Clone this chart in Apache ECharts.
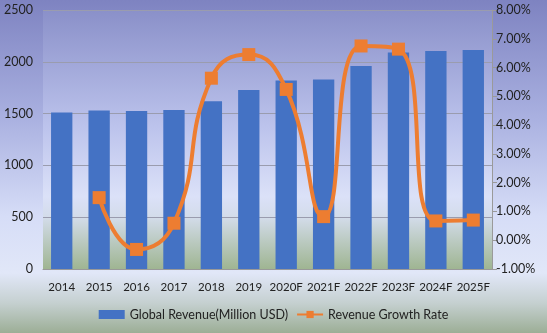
<!DOCTYPE html>
<html><head><meta charset="utf-8">
<script src="https://cdn.jsdelivr.net/npm/echarts@6/dist/echarts.min.js"></script>
<style>
html,body{margin:0;padding:0;}
#c{width:547px;height:333px;background:linear-gradient(to bottom,#7e83c1 0%,#a9b0e0 35%,#d6ddf7 65%,#e1e7f8 82%,#c5d0d0 91%,#9cae96 100%);}
</style></head><body>
<div id="c"></div>
<script>
const categories = ['2014','2015','2016','2017','2018','2019','2020F','2021F','2022F','2023F','2024F','2025F'];
const revenue = [1510,1530,1525,1535,1620,1728,1820,1828,1960,2090,2105,2115];
const growthRate = [null,1.48,-0.32,0.59,5.63,6.45,5.24,0.82,6.75,6.64,0.67,0.70];
const leftTicks = [0,500,1000,1500,2000,2500];

const chart = echarts.init(document.getElementById('c'));
const font = 'Lato, "Open Sans", sans-serif';
chart.setOption({
  animation:false,
  grid:{left:43,right:55,top:10,bottom:64,show:true,borderWidth:0,
    backgroundColor:new echarts.graphic.LinearGradient(0,0,0,1,[
      {offset:0,color:'#8a90c9'},{offset:0.45,color:'#bcc3ec'},{offset:0.72,color:'#dbe1f8'},
      {offset:0.8,color:'#d3dcea'},{offset:1,color:'#9fb592'}])},
  legend:{bottom:7,left:'center',itemGap:8,itemWidth:26,itemHeight:9,
    textStyle:{fontFamily:font,fontSize:12.5,color:'#222'},
    data:[{name:'Global Revenue(Million USD)',icon:'rect'},{name:'Revenue Growth Rate'}]},
  xAxis:{type:'category',data:categories,
    axisLine:{show:true,lineStyle:{color:'#999',width:1}},axisTick:{show:false},
    axisLabel:{fontFamily:font,fontSize:11.5,color:'#222',margin:12,interval:0}},
  yAxis:[{type:'value',min:0,max:2500,interval:500,
    axisLine:{show:false},axisTick:{show:false},
    axisLabel:{fontFamily:font,fontSize:12.5,color:'#222',margin:10,
      formatter:v=>leftTicks.includes(v)?String(v):''},
    splitLine:{lineStyle:{color:'#9a9cae',width:1}}},
   {type:'value',min:-1,max:8,interval:1,position:'right',
    axisLine:{show:true,lineStyle:{color:'#9a9a9a'}},axisTick:{show:true,length:5,lineStyle:{color:'#9a9a9a'}},
    axisLabel:{fontFamily:font,fontSize:12.5,color:'#222',margin:4,formatter:v=>v.toFixed(2)+'%'},
    splitLine:{show:false}}],
  series:[
    {name:'Global Revenue(Million USD)',type:'bar',data:revenue,barWidth:'57%',
     itemStyle:{color:'#4472c4'}},
    {name:'Revenue Growth Rate',type:'line',yAxisIndex:1,data:growthRate,smooth:0.5,
     symbol:'rect',symbolSize:13,lineStyle:{color:'#ed7d31',width:4},
     itemStyle:{color:'#ed7d31'}}
  ]
});
</script>
</body></html>
